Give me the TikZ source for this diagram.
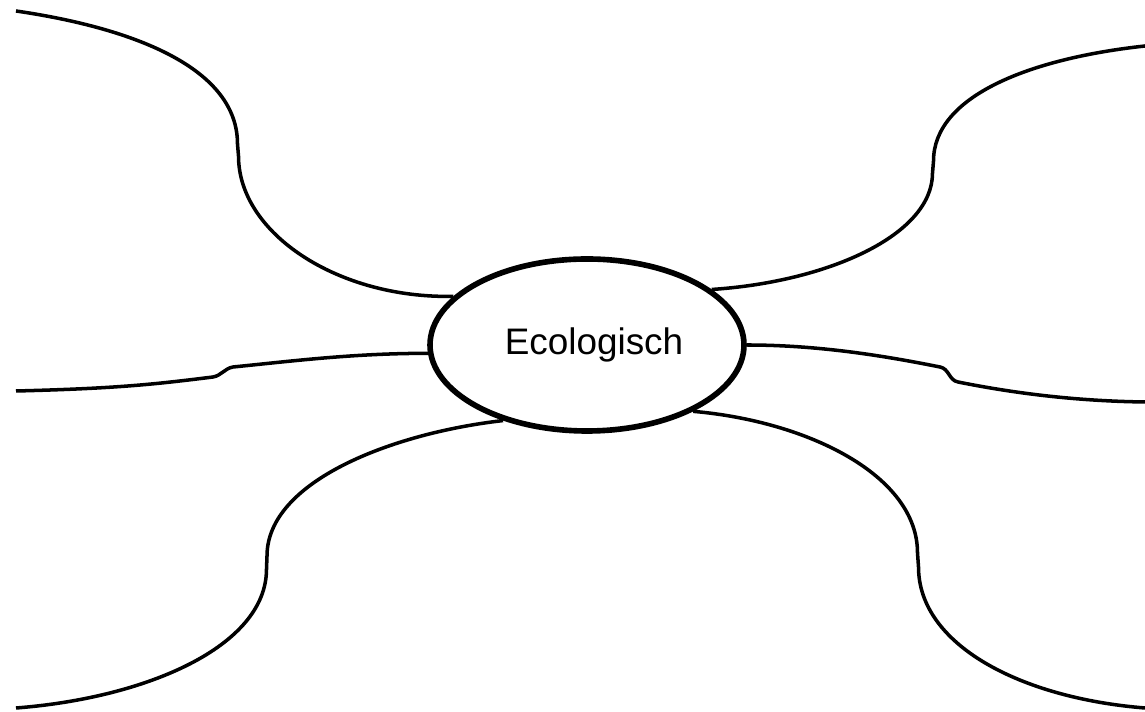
\documentclass[tikz,border=0pt]{standalone}
\usepackage{fontspec}
\setmainfont{Liberation Sans}
\usetikzlibrary{shapes.geometric}
\usetikzlibrary{positioning}

\tikzset{
  branch/.style={line width=2pt},
  hub/.style={ellipse,draw,line width=3.2pt,fill=white,minimum width=6.28cm,minimum height=3.44cm,inner sep=0pt,font=\fontsize{21}{25}\selectfont}
}

\begin{document}
\begin{tikzpicture}
\useasboundingbox (0,0) rectangle (22.9,14.24);
\node[hub] (eco) at (11.74,7.34) {\hspace*{0.28cm}Ecologisch};

\coordinate (tl) at (0.32,14.02);
\coordinate (tr) at (22.9,13.32);
\coordinate (ml) at (0.32,6.42);
\coordinate (mr) at (22.9,6.2);
\coordinate (bl) at (0.32,0.08);
\coordinate (br) at (22.9,0.08);

\coordinate (tl-a) at (4.75,11.36);
\coordinate (tl-b) at (4.77,11.12);
\coordinate (tr-a) at (18.65,10.78);
\coordinate (tr-b) at (18.67,11.02);
\coordinate (ml-a) at (4.26,6.7);
\coordinate (ml-b) at (4.66,6.9);
\coordinate (mr-a) at (18.8,6.9);
\coordinate (mr-b) at (19.16,6.6);
\coordinate (bl-a) at (5.34,3.12);
\coordinate (bl-b) at (5.33,2.86);
\coordinate (br-a) at (18.35,3.18);
\coordinate (br-b) at (18.37,2.9);

\draw[branch] (tl) .. controls +(2.4,-0.35) and +(0,1.5) .. (tl-a) -- (tl-b) .. controls +(0,-1.55) and +(-2.3,-0.05) .. (eco.160);
\draw[branch] (eco.24) .. controls +(2.3,0.15) and +(0,-1.25) .. (tr-a) -- (tr-b) .. controls +(0,1.3) and +(-2.3,-0.25) .. (tr);
\draw[branch] (ml) .. controls +(2,0.05) and +(-1.2,-0.15) .. (ml-a) to[out=10,in=190] (ml-b) .. controls +(1.2,0.12) and +(-1.5,0) .. (eco.183);
\draw[branch] (eco.0) .. controls +(1.5,0) and +(-1,0.2) .. (mr-a) to[out=-10,in=170] (mr-b) .. controls +(1,-0.2) and +(-1.5,0.02) .. (mr);
\draw[branch] (eco.222) .. controls +(-2.2,-0.25) and +(0,1.5) .. (bl-a) -- (bl-b) .. controls +(0,-1.55) and +(2.6,0.2) .. (bl);
\draw[branch] (eco.328) .. controls +(2.3,-0.2) and +(0,1.55) .. (br-a) -- (br-b) .. controls +(0,-1.55) and +(-2.5,0.2) .. (br);

\end{tikzpicture}
\end{document}
